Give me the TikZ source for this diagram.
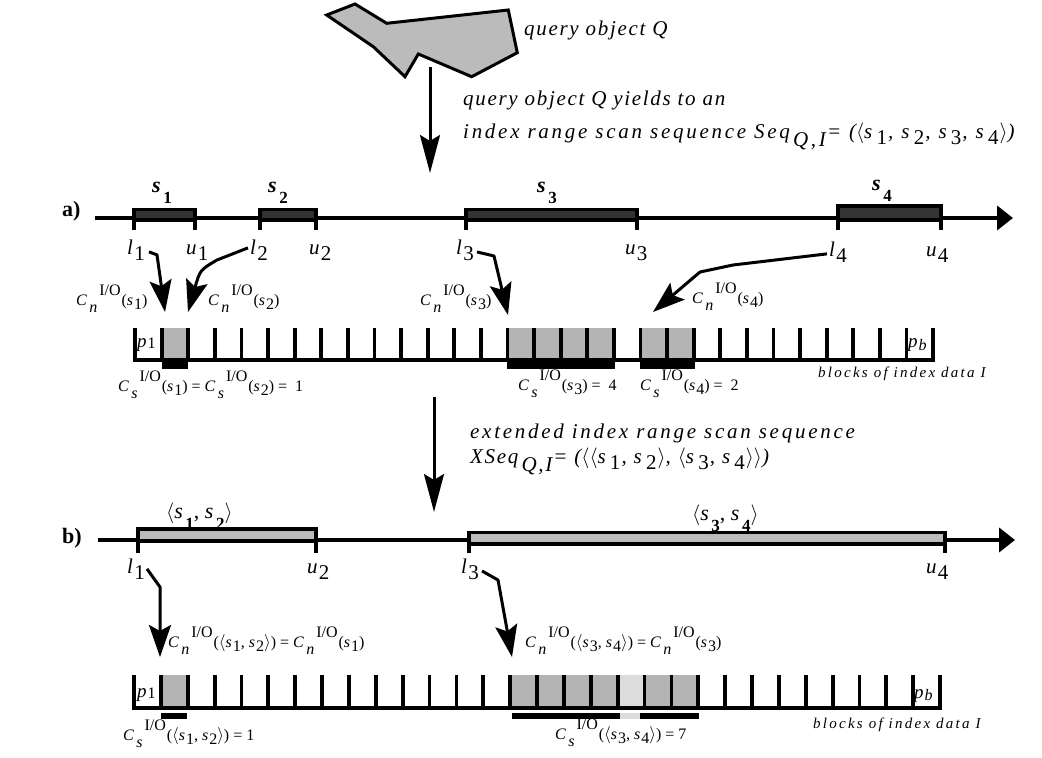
\documentclass[tikz,border=0pt]{standalone}
\usepackage{fontspec}
\setmainfont{Liberation Serif}
\newfontfamily\spacedfont[LetterSpace=8]{Liberation Serif}
\newfontfamily\widefont[LetterSpace=13]{Liberation Serif}
\newfontfamily\smallspaced[LetterSpace=15]{Liberation Serif}
\usetikzlibrary{arrows.meta}

\definecolor{polyfill}{HTML}{BBBBBB}
\definecolor{blockfill}{HTML}{B4B4B4}
\definecolor{blocklight}{HTML}{DCDCDC}
\definecolor{segdark}{HTML}{333333}
\definecolor{segfill}{HTML}{BBBBBB}

% lowered / raised pieces of a label
\newcommand\lowr[2][0.3em]{\raisebox{-#1}{#2}}
\newcommand\raiz[2][0.6em]{\raisebox{#1}{#2}}
\newcommand\sdig[1]{\kern0.06em\lowr{\upshape #1}}
% wider index digit used in the running description lines
\newcommand\ddig[1]{\kern0.2em\lowr{\upshape #1}\kern0.05em}
% cost term C with index #1 and argument #2
\newcommand\costio[2]{\textit{C}\kern0.15em\lowr[0.45em]{\textit{#1}}\kern0.12em\raiz[0.6em]{\upshape I/O}\kern0.06em#2}
\newcommand\lgl{$\langle$}
\newcommand\rgl{$\rangle$}
% bold segment name with lowered bold digit
\newcommand\segname[1]{\textbf{\textit{s}}\kern0.12em\lowr[11pt]{\fontsize{17}{20}\selectfont\bfseries #1}}
\newcommand\segnameb[1]{\textit{s}\kern0.12em\lowr[11pt]{\fontsize{17}{20}\selectfont\bfseries #1}}

\begin{document}
\begin{tikzpicture}[x=1pt,y=-1pt,
  desc/.style={font=\spacedfont\itshape\fontsize{21}{24}\selectfont, inner sep=0pt, anchor=base west},
  descwide/.style={font=\widefont\itshape\fontsize{21}{24}\selectfont, inner sep=0pt, anchor=base west},
  endlbl/.style={font=\fontsize{21}{24}\selectfont, inner sep=0pt, anchor=base west},
  seglbl/.style={font=\fontsize{22}{24}\selectfont, inner sep=0pt, anchor=base west},
  costlbl/.style={font=\fontsize{16}{18}\selectfont, inner sep=0pt, anchor=base west},
  blocklbl/.style={font=\fontsize{19}{22}\selectfont, inner sep=0pt, anchor=base west},
  datalbl/.style={font=\smallspaced\itshape\fontsize{15}{16}\selectfont, inner sep=0pt, anchor=base west},
  partlbl/.style={font=\bfseries\fontsize{22}{24}\selectfont, inner sep=0pt, anchor=base west},
  axisline/.style={line width=4pt, -{Triangle[length=16pt,width=24pt]}},
  segA/.style={line width=3.5pt, fill=segdark},
  segB/.style={line width=3.5pt, fill=segfill},
  tick/.style={line width=3.5pt},
  sepline/.style={line width=3.8pt},
  bigarrow/.style={line width=3pt, -{Stealth[length=38pt,width=20pt,inset=6pt]}},
  ptr/.style={line width=3pt, line join=round, -{Stealth[length=32pt,width=22pt,inset=6pt]}},
]
\useasboundingbox (0,0) rectangle (1042,758);

% ---------- query object ----------
\draw[line width=3pt, fill=polyfill, line join=miter]
  (326.7,15) -- (355,4) -- (386.7,23.3) -- (508.3,10) -- (517.3,52.7)
  -- (471.7,76.7) -- (418.3,54) -- (405,76.7) -- (373.3,46.7) -- cycle;
\node[desc] (qlabel) at (524,35) {query object Q};
\coordinate (qsrc) at (430,67);
\coordinate (qdst) at (430,173);
\draw[bigarrow] (qsrc) -- (qdst);
\node[desc] (yieldA) at (463,105) {query object Q yields to an};
\node[descwide] (yieldB) at (463,138) {index range scan sequence Seq\kern0.15em\lowr[0.4em]{Q,I}\kern0.05em= (\lgl s\ddig{1}, s\ddig{2}, s\ddig{3}, s\ddig{4}\rgl)};

% ---------- row a) ----------
\node[partlbl] (parta) at (62,216) {a)};
\draw[axisline] (95,218) -- (1013,218);
\foreach \a/\b/\t in {134/195/209.5, 260/316/209.5, 466/637/209.5, 838/941/206}{
  \draw[segA] (\a,\t) rectangle (\b,220);
  \draw[tick] (\a,\t) -- (\a,230);
  \draw[tick] (\b,\t) -- (\b,230);
}
\node[seglbl] (s1) at (152,192) {\segname{1}};
\node[seglbl] (s2) at (268,192) {\segname{2}};
\node[seglbl] (s3) at (537,192) {\segname{3}};
\node[seglbl] (s4) at (872,190) {\segname{4}};

\node[endlbl] (l1a) at (127,254) {\textit{l}\sdig{1}};
\node[endlbl] (u1a) at (186,254) {\textit{u}\sdig{1}};
\node[endlbl] (l2a) at (250,254) {\textit{l}\sdig{2}};
\node[endlbl] (u2a) at (309,254) {\textit{u}\sdig{2}};
\node[endlbl] (l3a) at (456,254) {\textit{l}\sdig{3}};
\node[endlbl] (u3a) at (625,254) {\textit{u}\sdig{3}};
\node[endlbl] (l4a) at (829,256) {\textit{l}\sdig{4}};
\node[endlbl] (u4a) at (926,256) {\textit{u}\sdig{4}};

\node[costlbl] (cn1) at (76,305) {\costio{n}{(\textit{s}\sdig{1})}};
\node[costlbl] (cn2) at (208,305) {\costio{n}{(\textit{s}\sdig{2})}};
\node[costlbl] (cn3) at (420,305) {\costio{n}{(\textit{s}\sdig{3})}};
\node[costlbl] (cn4) at (692,303) {\costio{n}{(\textit{s}\sdig{4})}};

\coordinate (tipA1) at (165,312);
\coordinate (tipA2) at (188,312);
\coordinate (tipA3) at (508,315);
\coordinate (tipA4) at (653,312);
\draw[ptr] (l1a.east) ++(4,2) -- ++(8,3) -- (tipA1);
\draw[ptr] (l2a.west) ++(-2,-2) -- (217,260) .. controls (200,270) .. (tipA2);
\draw[ptr] (l3a.east) ++(3,2) -- ++(17,4) -- (tipA3);
\draw[ptr] (l4a.west) ++(-2,2) -- (733,265) -- (700,272) -- (tipA4);

% blocks of index data, row a)
\foreach \i in {1,14,15,16,17,19,20}
  \fill[blockfill] ({135+26.6*\i},328) rectangle ({135+26.6*(\i+1)},360);
\foreach \i in {0,...,30}
  \draw[sepline] ({135+26.6*\i},328) -- ({135+26.6*\i},360);
\draw[sepline] (133.1,360) -- (934.9,360);
\fill (161.6,360) rectangle (187.6,369);
\fill (507.4,360) rectangle (615,369);
\fill (640.4,360) rectangle (695,369);
\node[blocklbl] (p1a) at (137,347) {\textit{p}\kern0.05em\lowr[0.1em]{\fontsize{16}{18}\selectfont 1}};
\node[blocklbl] (pba) at (908,347) {\textit{p}\kern0.05em\lowr[0.2em]{\fontsize{16}{18}\selectfont\textit{b}}};
\node[datalbl] (dataa) at (818,377) {blocks of index data I};

\node[costlbl] (cs12) at (118,391) {\costio{s}{(\textit{s}\sdig{1})} = \costio{s}{(\textit{s}\sdig{2})} =\ \ 1};
\node[costlbl] (cs3) at (518,390) {\costio{s}{(\textit{s}\sdig{3})} = \ 4};
\node[costlbl] (cs4) at (640,390) {\costio{s}{(\textit{s}\sdig{4})} =\ \ 2};

% ---------- transformation ----------
\coordinate (xsrc) at (434,397);
\coordinate (xdst) at (434,512);
\draw[bigarrow] (xsrc) -- (xdst);
\node[descwide] (extA) at (470,438) {extended index range scan sequence};
\node[desc] (extB) at (470,463) {XSeq\kern0.15em\lowr[0.4em]{Q,I}\kern0.05em= (\lgl\lgl s\ddig{1}, s\ddig{2}\rgl, \lgl s\ddig{3}, s\ddig{4}\rgl\rgl)};

% ---------- row b) ----------
\node[partlbl] (partb) at (62,543) {b)};
\draw[axisline] (98,540) -- (1015,540);
\draw[segB] (138,529) rectangle (316,541);
\draw[segB] (469,532.5) rectangle (945,544);
\foreach \x/\t in {138/528, 316/528, 469/531, 945/531}
  \draw[tick] (\x,\t) -- (\x,553);
\node[seglbl] (s12) at (166,518) {\lgl\segnameb{1}, \segnameb{2}\rgl};
\node[seglbl] (s34) at (692,520) {\lgl\segnameb{3}, \segnameb{4}\rgl};

\node[endlbl] (l1b) at (127,573) {\textit{l}\sdig{1}};
\node[endlbl] (u2b) at (307,573) {\textit{u}\sdig{2}};
\node[endlbl] (l3b) at (461,573) {\textit{l}\sdig{3}};
\node[endlbl] (u4b) at (926,573) {\textit{u}\sdig{4}};

\coordinate (tipB1) at (160,657);
\coordinate (tipB2) at (512,657);
\draw[ptr] (l1b.east) ++(2,0) -- (160,587) -- (tipB1);
\draw[ptr] (l3b.east) ++(3,2) -- (498,580) -- (tipB2);

\node[costlbl] (cn12) at (168,647) {\costio{n}{(\lgl\textit{s}\sdig{1}, \textit{s}\sdig{2}\rgl)} = \costio{n}{(\textit{s}\sdig{1})}};
\node[costlbl] (cn34) at (525,647) {\costio{n}{(\lgl\textit{s}\sdig{3}, \textit{s}\sdig{4}\rgl)} = \costio{n}{(\textit{s}\sdig{3})}};

% blocks of index data, row b)
\foreach \i in {1,14,15,16,17,19,20}
  \fill[blockfill] ({134+26.87*\i},675) rectangle ({134+26.87*(\i+1)},708);
\fill[blocklight] ({134+26.87*18},675) rectangle ({134+26.87*19},708);
\foreach \i in {0,...,30}
  \draw[sepline] ({134+26.87*\i},675) -- ({134+26.87*\i},708);
\draw[sepline] (132.1,708) -- (942,708);
\fill (161,713) rectangle (187,719);
\fill (512,713) rectangle (620,719);
\fill[blocklight] (620,713) rectangle (640,719);
\fill (640,713) rectangle (699,719);
\node[blocklbl] (p1b) at (137,697) {\textit{p}\kern0.05em\lowr[0.1em]{\fontsize{16}{18}\selectfont 1}};
\node[blocklbl] (pbb) at (914,698) {\textit{p}\kern0.05em\lowr[0.15em]{\fontsize{16}{18}\selectfont\textit{b}}};
\node[datalbl] (datab) at (813,728) {blocks of index data I};

\node[costlbl] (cs12b) at (123,740) {\costio{s}{(\lgl\textit{s}\sdig{1}, \textit{s}\sdig{2}\rgl)} =\ 1};
\node[costlbl] (cs34b) at (555,739) {\costio{s}{(\lgl\textit{s}\sdig{3}, \textit{s}\sdig{4}\rgl)} =\ 7};
\end{tikzpicture}
\end{document}
